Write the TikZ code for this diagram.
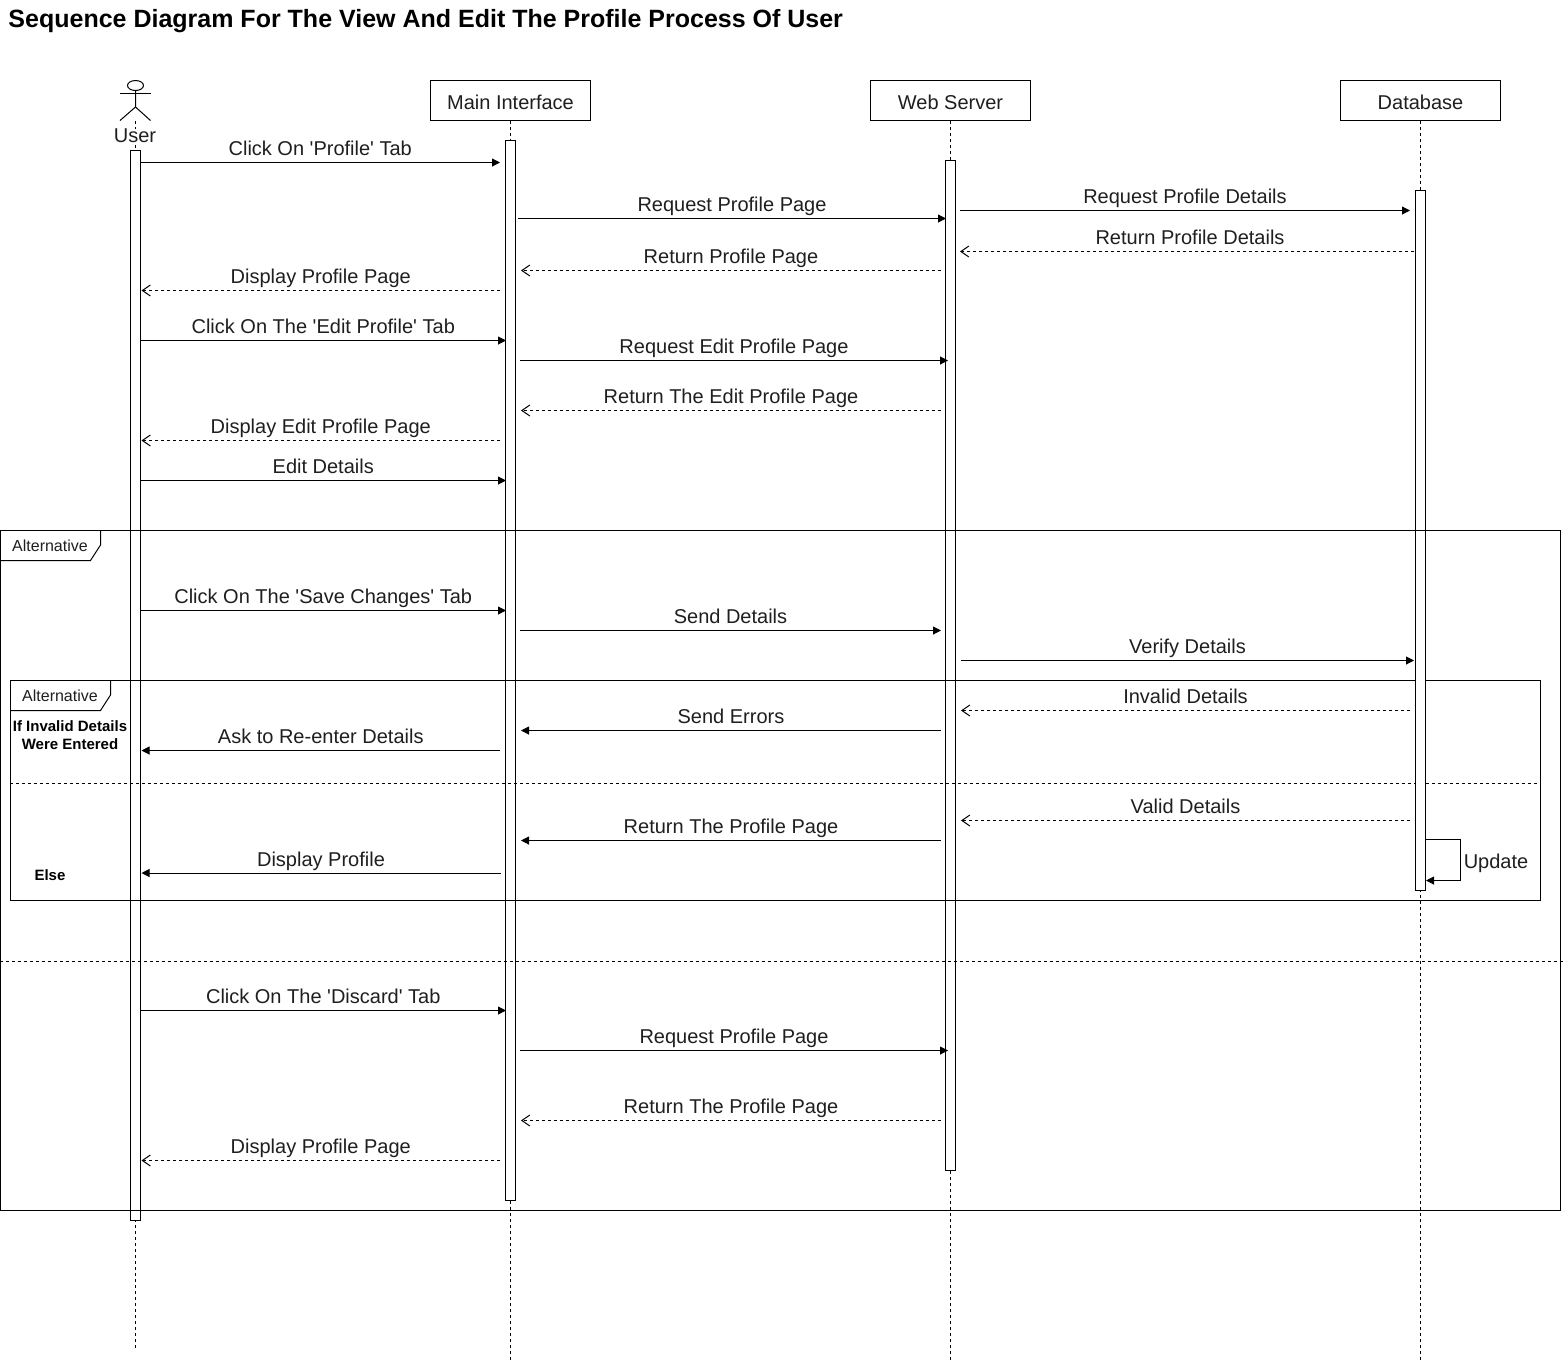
\documentclass[tikz,border=0pt]{standalone}
\usepackage{fontspec}
\setmainfont[Ligatures=TeXOff]{Liberation Sans}
\usetikzlibrary{arrows.meta,calc}
\tikzset{
  x=1pt,y=-1pt,
  every path/.style={line width=1pt},
  txt/.style={text=black!88,inner sep=0pt,font=\fontsize{20}{24}\selectfont},
  msglabel/.style={txt,anchor=base},
  synccall/.style={draw=black,-{Triangle[length=8pt,width=8pt]}},
  reply/.style={draw=black,dash pattern=on 3pt off 3pt,-{Straight Barb[length=8pt,width=11pt]}},
  headbox/.style={draw=black,minimum width=160pt,minimum height=40pt,inner sep=0pt,outer sep=0pt,anchor=north west,fill=white},
  headtext/.style={txt},
  actbar/.style={draw=black,fill=white,minimum width=10pt,inner sep=0pt,outer sep=0pt,anchor=north west},
  lifeline/.style={draw=black,dash pattern=on 3pt off 3pt},
  divider/.style={draw=black,dash pattern=on 3pt off 3pt},
  framebox/.style={draw=black},
  fragtab/.style={txt,font=\fontsize{16}{19}\selectfont},
  guard/.style={inner sep=0pt,align=center,text=black,font=\fontsize{15}{18}\bfseries\selectfont},
}
\newcommand{\seqmsg}[6]{%
  \coordinate (#1a) at (#3,#5);
  \coordinate (#1b) at (#4,#5);
  \draw[#2] (#1a) -- (#1b);
  \node[msglabel] (#1t) at ($(#1a)!0.5!(#1b)+(0,-7.5)$) {#6};
}
\begin{document}
\begin{tikzpicture}
\useasboundingbox[fill=white] (0,0) rectangle (1567,1361);
\node[anchor=base west,inner sep=0pt,text=black,font=\fontsize{25}{28}\bfseries\selectfont] (title) at (8,27) {Sequence Diagram For The View And Edit The Profile Process Of User};

% heads
\node[headbox] (hM) at (430.5,80.5) {};
\node[headtext] (tM) at (510.5,102) {Main Interface};
\node[headbox] (hW) at (870.5,80.5) {};
\node[headtext] (tW) at (950.5,102) {Web Server};
\node[headbox] (hD) at (1340.5,80.5) {};
\node[headtext] (tD) at (1420.5,102) {Database};
% actor
\draw (135.5,85.5) ellipse [x radius=8,y radius=5];
\draw (120,93.5) -- (151,93.5);
\draw (135.5,90.5) -- (135.5,107) -- (120,120.5);
\draw (135.5,107) -- (150.5,120.5);
\coordinate (aU) at (135.5,121);

% lifelines
\coordinate (eU) at (135.5,1348);
\coordinate (eM) at (510.5,1360);
\coordinate (eW) at (950.5,1360);
\coordinate (eD) at (1420.5,1360);
\draw[lifeline] (aU) -- (eU);
\draw[lifeline] (hM.south) -- (eM);
\draw[lifeline] (hW.south) -- (eW);
\draw[lifeline] (hD.south) -- (eD);
\node[txt,fill=white,inner xsep=1pt,inner ysep=0pt] (hU) at (135,136) {User};

% activation bars
\node[actbar,minimum height=1070pt] (bU) at (130.5,150.5) {};
\node[actbar,minimum height=1060pt] (bM) at (505.5,140.5) {};
\node[actbar,minimum height=1010pt] (bW) at (945.5,160.5) {};

% message hidden behind the database bar
\seqmsg{m4}{reply}{1420}{960}{251.5}{Return Profile Details}

% inner frame
\coordinate (iA) at (10.5,680.5);
\coordinate (iB) at (1540.5,900.5);
\draw[framebox] (iA) rectangle (iB);
\coordinate (iTa) at (110.5,680.5);
\coordinate (iTb) at (110.5,695);
\coordinate (iTc) at (100.5,710.5);
\coordinate (iTd) at (10.5,710.5);
\draw[framebox] (iTa) -- (iTb) -- (iTc) -- (iTd);
\node[fragtab] (iL) at (60,696) {Alternative};
\coordinate (iDa) at (10,783.5);
\coordinate (iDb) at (1537,783.5);
\draw[divider] (iDa) -- (iDb);

\node[actbar,minimum height=700pt] (bD) at (1415.5,190.5) {};

% outer frame
\coordinate (oA) at (0.5,530.5);
\coordinate (oB) at (1560.5,1210.5);
\draw[framebox] (oA) rectangle (oB);
\coordinate (oTa) at (100.5,530.5);
\coordinate (oTb) at (100.5,545);
\coordinate (oTc) at (90.5,560.5);
\coordinate (oTd) at (0.5,560.5);
\draw[framebox] (oTa) -- (oTb) -- (oTc) -- (oTd);
\node[fragtab] (oL) at (50,546) {Alternative};
\coordinate (oDa) at (0,961);
\coordinate (oDb) at (1566,961);
\draw[divider] (oDa) -- (oDb);

% messages
\seqmsg{m1}{synccall}{140.5}{500}{162.5}{Click On 'Profile' Tab}
\seqmsg{m2}{synccall}{518}{946}{218.5}{Request Profile Page}
\seqmsg{m3}{synccall}{960}{1410}{210.5}{Request Profile Details}
\seqmsg{m5}{reply}{941}{521}{270.5}{Return Profile Page}
\seqmsg{m6}{reply}{500}{141.5}{290.5}{Display Profile Page}
\seqmsg{m7}{synccall}{140.5}{506}{340.5}{Click On The 'Edit Profile' Tab}
\seqmsg{m8}{synccall}{520}{948}{360.5}{Request Edit Profile Page}
\seqmsg{m9}{reply}{941}{521}{410.5}{Return The Edit Profile Page}
\seqmsg{m10}{reply}{500}{141.5}{440.5}{Display Edit Profile Page}
\seqmsg{m11}{synccall}{140.5}{506}{480.5}{Edit Details}
\seqmsg{m12}{synccall}{140.5}{506}{610.5}{Click On The 'Save Changes' Tab}
\seqmsg{m13}{synccall}{520}{941}{630.5}{Send Details}
\seqmsg{m14}{synccall}{961}{1414}{660.5}{Verify Details}
\seqmsg{m15}{reply}{1410}{961}{710.5}{Invalid Details}
\seqmsg{m16}{synccall}{941}{521}{730.5}{Send Errors}
\seqmsg{m17}{synccall}{500}{141.5}{750.5}{Ask to Re-enter Details}
\seqmsg{m18}{reply}{1410}{961}{820.5}{Valid Details}
\seqmsg{m19}{synccall}{941}{521}{840.5}{Return The Profile Page}
\coordinate (m20a) at (500.5,873);
\coordinate (m20b) at (141.5,873);
\draw[synccall] (m20a) -- (m20b);
\node[msglabel] (m20t) at ($(m20a)!0.5!(m20b)+(0,-6.5)$) {Display Profile};
\seqmsg{m21}{synccall}{140.5}{506}{1010.5}{Click On The 'Discard' Tab}
\seqmsg{m22}{synccall}{520}{948}{1050.5}{Request Profile Page}
\seqmsg{m23}{reply}{941}{521}{1120.5}{Return The Profile Page}
\seqmsg{m24}{reply}{500}{141.5}{1160.5}{Display Profile Page}

% self message
\coordinate (sA) at (1425.5,839.5);
\coordinate (sB) at (1460.5,839.5);
\coordinate (sC) at (1460.5,880.5);
\coordinate (sD) at (1426,880.5);
\draw[synccall] (sA) -- (sB) -- (sC) -- (sD);
\node[txt] (sT) at (1496,863) {Update};

% guards
\node[guard] (g1) at (70,735.5) {If Invalid Details\\Were Entered};
\node[guard] (g2) at (50,875.5) {Else};
\end{tikzpicture}
\end{document}
